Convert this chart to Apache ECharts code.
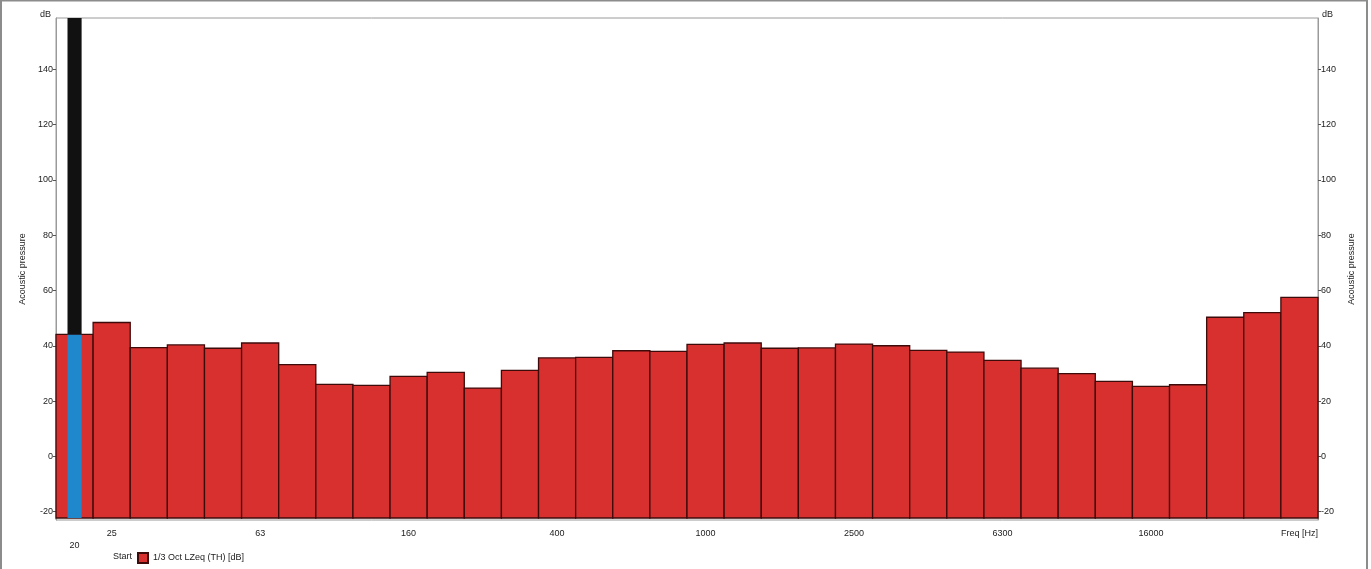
<!DOCTYPE html>
<html>
<head>
<meta charset="utf-8">
<script src="https://cdn.jsdelivr.net/npm/echarts@6/dist/echarts.min.js"></script>
<style>
  html, body { margin: 0; padding: 0; background: #fff; }
  #chart { width: 1371px; height: 569px; }
</style>
</head>
<body>
<div id="chart"></div>
<script>
// 1/3-octave band centre frequencies (Hz)
const bands = ['20', '25', '31.5', '40', '50', '63', '80', '100', '125', '160',
  '200', '250', '315', '400', '500', '630', '800', '1000', '1250', '1600',
  '2000', '2500', '3150', '4000', '5000', '6300', '8000', '10000', '12500', '16000',
  '20000', '25000', '31500', '40000'];

// LZeq per band (dB)
const levels = [44.1, 48.4, 39.3, 40.3, 39.1, 41.0, 33.2, 26.0, 25.7, 28.9,
  30.4, 24.7, 31.1, 35.6, 35.8, 38.2, 38.0, 40.5, 41.0, 39.1,
  39.2, 40.6, 40.0, 38.3, 37.7, 34.7, 31.9, 29.9, 27.1, 25.3,
  25.9, 50.3, 52.0, 57.5];

// dB tick values shown on both vertical axes
const dbTicks = [-20, 0, 20, 40, 60, 80, 100, 120, 140];

// cursor position (band index)
const cursorBand = 0;

const Y_MIN = -23;
const Y_MAX = 158.5;

const RED = '#d8302f';
const EDGE = '#3e0b0b';
const BLUE = '#1f87cb';
const FONT = 'Liberation Sans';
const AXIS_GRAY = '#9a9a9a';

const chart = echarts.init(document.getElementById('chart'), null, { renderer: 'canvas' });

const yAxisCommon = {
  type: 'value',
  min: Y_MIN,
  max: Y_MAX,
  name: 'Acoustic pressure',
  nameLocation: 'middle',
  nameRotate: 90,
  nameTextStyle: { fontFamily: FONT, fontSize: 9, color: '#222' },
  splitLine: { show: false },
  axisLine: { show: true, lineStyle: { color: AXIS_GRAY, width: 1 } },
  axisTick: { show: true, length: 3, customValues: dbTicks, lineStyle: { color: '#555' } },
  axisLabel: { customValues: dbTicks, fontFamily: FONT, fontSize: 9, color: '#222', margin: 3 }
};

chart.setOption({
  animation: false,
  backgroundColor: '#fff',
  grid: {
    left: 56, right: 53, top: 18, bottom: 49,
    show: true, borderColor: AXIS_GRAY, borderWidth: 1
  },
  legend: {
    data: ['1/3 Oct LZeq (TH) [dB]'],
    left: 137, top: 552,
    itemWidth: 10, itemHeight: 10, itemGap: 4,
    icon: 'rect',
    textStyle: { fontFamily: FONT, fontSize: 9, color: '#222' },
    padding: 0
  },
  xAxis: [{
    type: 'category',
    data: bands,
    boundaryGap: true,
    axisLine: { show: true, lineStyle: { color: AXIS_GRAY } },
    axisTick: {
      show: true, length: 3, alignWithLabel: true,
      interval: (i) => i > 0 && (i - 1) % 4 === 0,
      lineStyle: { color: '#555' }
    },
    axisLabel: {
      interval: (i) => i === cursorBand || (i - 1) % 4 === 0,
      fontFamily: FONT, fontSize: 9, color: '#222', margin: 8, lineHeight: 12,
      formatter: (v, i) => {
        if (i === cursorBand) return '\n' + v;
        if (i === bands.length - 1) return 'Freq [Hz]';
        return v;
      }
    },
    splitLine: { show: false }
  }],
  yAxis: [
    Object.assign({}, yAxisCommon, { position: 'left', nameGap: 21 }),
    Object.assign({}, yAxisCommon, { position: 'right', nameGap: 24 })
  ],
  graphic: [
    { type: 'rect', silent: true, shape: { x: 1, y: 0.5, width: 1366, height: 600 },
      style: { fill: 'none', stroke: '#8c8c8c', lineWidth: 2 } },
    { type: 'text', left: 40, top: 10, silent: true,
      style: { text: 'dB', font: '9px "Liberation Sans"', fill: '#222' } },
    { type: 'text', left: 1322, top: 10, silent: true,
      style: { text: 'dB', font: '9px "Liberation Sans"', fill: '#222' } },
    { type: 'text', left: 113, top: 552, silent: true,
      style: { text: 'Start', font: '9px "Liberation Sans"', fill: '#222' } }
  ],
  series: [
    {
      name: '1/3 Oct LZeq (TH) [dB]',
      type: 'custom',
      itemStyle: { color: RED, borderColor: EDGE, borderWidth: 1 },
      encode: { x: 0, y: 1 },
      data: levels.map((v, i) => [i, v]),
      renderItem: (params, api) => {
        const i = api.value(0);
        const top = api.coord([i, api.value(1)]);
        const base = api.coord([i, Y_MIN]);
        const w = api.size([1, 0])[0];
        return {
          type: 'rect',
          shape: { x: top[0] - w / 2, y: top[1], width: w, height: base[1] - top[1] - 2 },
          style: { fill: RED, stroke: EDGE, lineWidth: 1.3 }
        };
      }
    },
    {
      name: 'cursor',
      type: 'custom',
      silent: true,
      encode: { x: 0, y: 1 },
      data: [[cursorBand, levels[cursorBand]]],
      renderItem: (params, api) => {
        const i = api.value(0);
        const lvl = api.coord([i, api.value(1)]);
        const base = api.coord([i, Y_MIN]);
        const ceil = api.coord([i, Y_MAX]);
        const w = api.size([1, 0])[0] * 0.38;
        return {
          type: 'group',
          children: [
            { type: 'rect',
              shape: { x: lvl[0] - w / 2, y: lvl[1], width: w, height: base[1] - lvl[1] - 2 },
              style: { fill: BLUE } },
            { type: 'rect',
              shape: { x: lvl[0] - w / 2, y: ceil[1], width: w, height: lvl[1] - ceil[1] },
              style: { fill: '#111' } }
          ]
        };
      }
    }
  ]
});
</script>
</body>
</html>
